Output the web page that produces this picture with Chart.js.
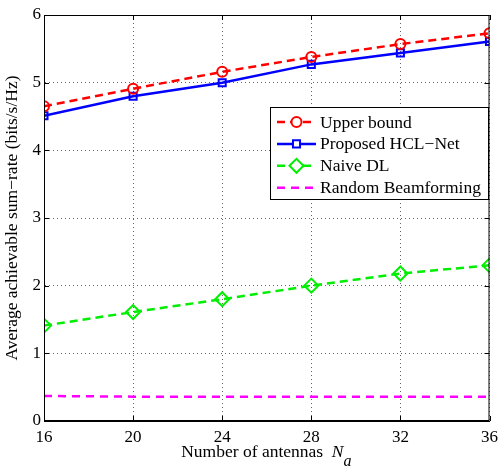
<!DOCTYPE html>
<html>
<head>
<meta charset="utf-8">
<title>Sum-rate vs antennas</title>
<script src="https://cdn.jsdelivr.net/npm/chart.js"></script>
<style>
  html, body { margin: 0; padding: 0; background: #fff; }
  #wrap { position: relative; width: 504px; height: 466px; }
</style>
</head>
<body>
<div id="wrap"><canvas id="rateChart"></canvas></div>
<script>
// data
const antennas = [16, 20, 24, 28, 32, 36];
const upperBound = [4.65, 4.91, 5.16, 5.38, 5.57, 5.73];
const hclNet = [4.51, 4.80, 5.00, 5.27, 5.44, 5.61];
const naiveDL = [1.41, 1.61, 1.80, 2.00, 2.18, 2.30];
const randomBF = [0.37, 0.36, 0.36, 0.36, 0.36, 0.36];
const seriesNames = ['Upper bound', 'Proposed HCL\u2212Net', 'Naive DL', 'Random Beamforming'];
const yTicks = [0, 1, 2, 3, 4, 5, 6];

const FONT = "'Liberation Serif', 'DejaVu Serif', serif";

function pts(ys) {
    return antennas.map((x, i) => ({ x: x, y: ys[i] }));
}

// legend inside the plot + frame + inward ticks + x title with subscript
const matlabLook = {
    id: 'matlabLook',
    afterDraw(chart) {
        const ctx = chart.ctx;
        const a = chart.chartArea;
        const xs = chart.scales.x, ys = chart.scales.y;
        ctx.save();
        // frame
        ctx.strokeStyle = '#000';
        ctx.lineWidth = 1;
        ctx.strokeRect(a.left + 0.5, a.top + 0.5, a.right - a.left - 1, a.bottom - a.top - 1);
        // inward ticks
        ctx.beginPath();
        antennas.forEach(v => {
            const px = Math.round(xs.getPixelForValue(v)) + 0.5;
            ctx.moveTo(px, a.bottom); ctx.lineTo(px, a.bottom - 5);
            ctx.moveTo(px, a.top); ctx.lineTo(px, a.top + 5);
        });
        yTicks.forEach(v => {
            const py = Math.round(ys.getPixelForValue(v)) + 0.5;
            ctx.moveTo(a.left, py); ctx.lineTo(a.left + 5, py);
            ctx.moveTo(a.right, py); ctx.lineTo(a.right - 5, py);
        });
        ctx.stroke();

        // x title
        ctx.fillStyle = '#000';
        ctx.textBaseline = 'alphabetic';
        ctx.textAlign = 'left';
        ctx.font = "17.5px " + FONT;
        const t1 = 'Number of antennas  ';
        const w1 = ctx.measureText(t1).width;
        ctx.font = "italic 17.5px " + FONT;
        const wN = ctx.measureText('N').width;
        const wa = ctx.measureText('a').width;
        let x0 = (a.left + a.right) / 2 - (w1 + wN + wa) / 2;
        ctx.font = "17.5px " + FONT;
        ctx.fillText(t1, x0, 457);
        ctx.font = "italic 17.5px " + FONT;
        ctx.fillText('N', x0 + w1, 457);
        ctx.font = "italic 16px " + FONT;
        ctx.fillText('a', x0 + w1 + wN, 466);

        // legend box
        const bx = 270, by = 107, bw = 218, bh = 92;
        ctx.fillStyle = '#fff';
        ctx.fillRect(bx, by, bw, bh);
        ctx.strokeStyle = '#000';
        ctx.lineWidth = 1;
        ctx.strokeRect(bx + 0.5, by + 0.5, bw, bh);
        chart.data.datasets.forEach((ds, i) => {
            const cy = 122 + i * 21.9;
            ctx.strokeStyle = ds.borderColor;
            ctx.lineWidth = ds.borderWidth;
            ctx.setLineDash(ds.borderDash || []);
            ctx.beginPath();
            ctx.moveTo(277, cy); ctx.lineTo(316, cy);
            ctx.stroke();
            ctx.setLineDash([]);
            if (ds.pointRadius > 0) {
                ctx.fillStyle = '#fff';
                ctx.lineWidth = ds.pointBorderWidth;
                Chart.helpers.drawPoint(ctx, {
                    pointStyle: ds.pointStyle,
                    radius: ds.pointRadius,
                    borderWidth: ds.pointBorderWidth,
                    rotation: 0
                }, 296.5, cy);
            }
            ctx.fillStyle = '#000';
            ctx.font = "17.5px " + FONT;
            ctx.textBaseline = 'middle';
            ctx.fillText(ds.label, 320, cy + 1);
        });
        ctx.restore();
    }
};

const ctx = document.getElementById('rateChart');

new Chart(ctx, {
    type: 'line',
    data: {
        datasets: [
            {
                label: seriesNames[0],
                data: pts(upperBound),
                borderColor: '#ff0000',
                backgroundColor: '#ffffff',
                borderWidth: 2.5,
                borderDash: [8, 5],
                pointStyle: 'circle',
                pointRadius: 5,
                pointBorderWidth: 2,
                pointBorderColor: '#ff0000',
                pointBackgroundColor: 'rgba(255,255,255,0)'
            },
            {
                label: seriesNames[1],
                data: pts(hclNet),
                borderColor: '#0000ff',
                backgroundColor: '#ffffff',
                borderWidth: 2.5,
                pointStyle: 'rect',
                pointRadius: 5,
                pointBorderWidth: 2,
                pointBorderColor: '#0000ff',
                pointBackgroundColor: 'rgba(255,255,255,0)'
            },
            {
                label: seriesNames[2],
                data: pts(naiveDL),
                borderColor: '#00ee00',
                backgroundColor: '#ffffff',
                borderWidth: 2.5,
                borderDash: [8, 5],
                pointStyle: 'rectRot',
                pointRadius: 7,
                pointBorderWidth: 2,
                pointBorderColor: '#00ee00',
                pointBackgroundColor: 'rgba(255,255,255,0)'
            },
            {
                label: seriesNames[3],
                data: pts(randomBF),
                borderColor: '#ff00ff',
                borderWidth: 2.5,
                borderDash: [8, 6],
                pointRadius: 0
            }
        ]
    },
    options: {
        responsive: true,
        maintainAspectRatio: false,
        animation: false,
        layout: { padding: { top: 15, right: 12, left: 0, bottom: 0 } },
        plugins: {
            legend: { display: false },
            tooltip: { enabled: false }
        },
        scales: {
            x: {
                type: 'linear',
                min: 16,
                max: 36,
                afterFit: s => { s.height = 45; },
                afterBuildTicks: s => { s.ticks = antennas.map(v => ({ value: v })); },
                grid: {
                    color: '#666',
                    lineWidth: 1,
                    drawTicks: false
                },
                border: { display: true, color: '#000', dash: [1, 3] },
                ticks: {
                    padding: 6,
                    color: '#000',
                    font: { family: FONT, size: 17 }
                }
            },
            y: {
                min: 0,
                max: 6,
                afterFit: s => { s.width = 44; },
                afterBuildTicks: s => { s.ticks = yTicks.map(v => ({ value: v })); },
                grid: {
                    color: '#666',
                    lineWidth: 1,
                    drawTicks: false
                },
                border: { display: true, color: '#000', dash: [1, 3] },
                title: {
                    display: true,
                    text: 'Average achievable sum\u2212rate (bits/s/Hz)',
                    color: '#000',
                    font: { family: FONT, size: 17.5 },
                    padding: { top: 2, bottom: 0 }
                },
                ticks: {
                    padding: 3,
                    color: '#000',
                    font: { family: FONT, size: 17 }
                }
            }
        }
    },
    plugins: [matlabLook]
});
</script>
</body>
</html>
